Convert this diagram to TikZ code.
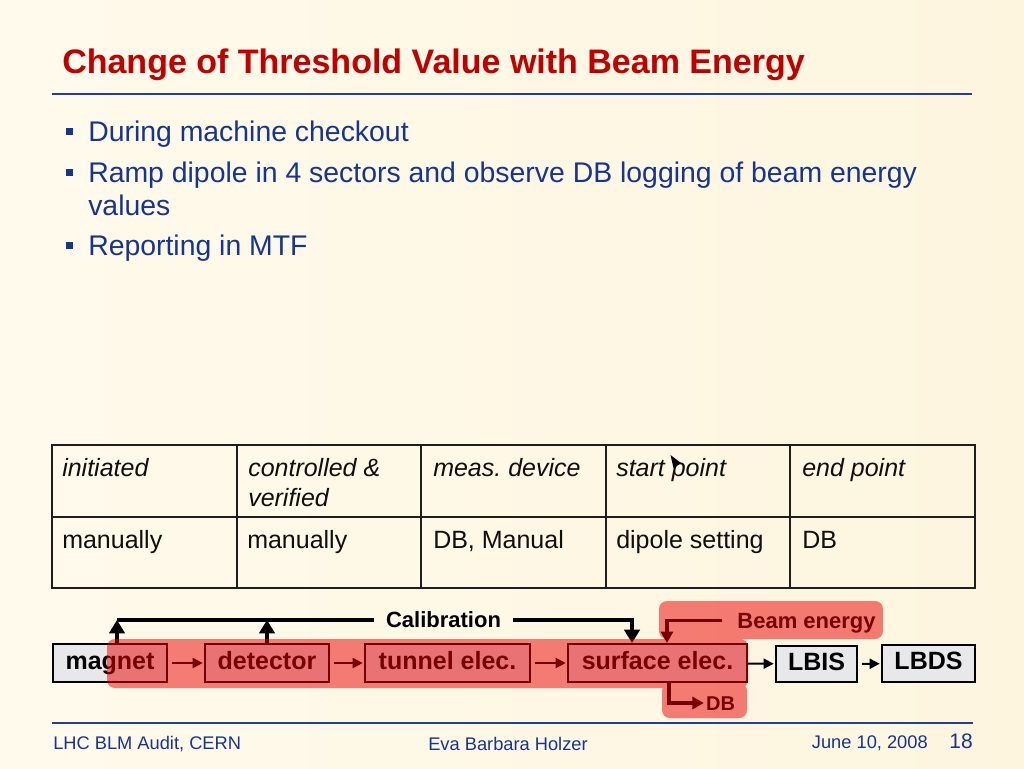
\documentclass[tikz,border=0pt]{standalone}
\usepackage{fontspec}
\setmainfont{Liberation Sans}
\usetikzlibrary{arrows.meta,calc}
\definecolor{titlered}{RGB}{192,0,0}
\definecolor{txtblue}{RGB}{22,52,145}
\definecolor{lineblue}{RGB}{30,65,150}
\definecolor{boxgray}{RGB}{232,232,234}
\definecolor{ovred}{RGB}{235,0,0}
\definecolor{bgL}{RGB}{255,250,236}
\definecolor{bgR}{RGB}{253,245,222}
\definecolor{tabline}{RGB}{30,30,30}
\definecolor{tabtxt}{RGB}{15,15,15}
\newcommand{\setfs}[1]{\fontsize{#1}{#1}\selectfont}
\frenchspacing
\begin{document}
\begin{tikzpicture}[x=0.75pt,y=-0.75pt,
  bultext/.style={anchor=base west,inner sep=0pt,text=txtblue,font=\setfs{21.3}},
  bulsq/.style={fill=txtblue},
  tabcell/.style={anchor=base west,inner sep=0pt,text=tabtxt,font=\setfs{18.75}},
  tabhead/.style={tabcell,font=\setfs{18.75}\itshape},
  box/.style={draw=black,line width=1.5pt,fill=boxgray,inner sep=0pt,
    font=\setfs{18.75}\bfseries,text height=13.5pt,text depth=3.9pt,
    minimum height=38*0.75pt},
  flow/.style={draw=black,line width=1.5pt,-{Triangle[length=7.5pt,width=7.5pt]},
    shorten <=3pt,shorten >=1pt},
  calline/.style={draw=black,line width=3pt},
  calarrow/.style={draw=black,line width=3pt,-{Triangle[length=10pt,width=11.5pt]}},
  beamarrow/.style={draw=black,line width=2.3pt,-{Triangle[length=8.5pt,width=9pt]}},
  lbl/.style={inner ysep=0pt,text depth=0pt,font=\setfs{16.5}\bfseries},
  foot/.style={inner sep=0pt,text=txtblue,font=\setfs{13.7}}
]
\useasboundingbox (0,0) rectangle (1024,768);
\shade[left color=bgL,right color=bgR] (0,0) rectangle (1024,768);

% title
\node[anchor=base west,inner sep=0pt,text=titlered,font=\setfs{25.5}\bfseries] (title) at (62,73) {Change of Threshold Value with Beam Energy};
\draw[lineblue,line width=1.5pt] (52,94) -- (972,94);

% bullets
\fill[bulsq] (65.5,128) rectangle (72.5,135);
\node[bultext] (b1) at (88,141) {During machine checkout};
\fill[bulsq] (65.5,169) rectangle (72.5,176);
\node[bultext] (b2) at (88,182) {Ramp dipole in 4 sectors and observe DB logging of beam energy};
\node[bultext] (b2b) at (88,215) {values};
\fill[bulsq] (65.5,242) rectangle (72.5,249);
\node[bultext] (b3) at (88,255) {Reporting in MTF};

% table
\draw[tabline,line width=1.1pt] (52,445) rectangle (975,588);
\draw[tabline,line width=1.1pt] (52,517) -- (975,517);
\foreach \cx in {237,421,606,790} \draw[tabline,line width=1.1pt] (\cx,445) -- (\cx,588);
\node[tabhead] (h1) at (62,476) {initiated};
\node[tabhead] (h2) at (248,476) {controlled \&};
\node[tabhead] (h2b) at (248,506) {verified};
\node[tabhead] (h3) at (433,476) {meas. device};
\node[tabhead] (h4) at (616,476) {start point};
\node[tabhead] (h5) at (802,476) {end point};
\node[tabcell] (c1) at (62,548) {manually};
\node[tabcell] (c2) at (247,548) {manually};
\node[tabcell] (c3) at (433,548) {DB, Manual};
\node[tabcell] (c4) at (616,548) {dipole setting};
\node[tabcell] (c5) at (802,548) {DB};
\fill[black] (670.5,455) -- (681,463) -- (673.5,468) -- cycle;

% diagram boxes
\node[box,minimum width=114*0.75pt] (magnet) at (110,663) {magnet};
\node[box,minimum width=124*0.75pt] (detector) at (267,663) {detector};
\node[box,minimum width=165*0.75pt] (tunnel) at (447.5,663) {tunnel elec.};
\node[box,minimum width=179*0.75pt] (surface) at (657.5,663) {surface elec.};
\node[box,minimum width=81*0.75pt,minimum height=36*0.75pt] (lbis) at (816.5,664) {LBIS};
\node[box,minimum width=93*0.75pt,minimum height=37*0.75pt] (lbds) at (928.5,663.5) {LBDS};

\draw[flow] (magnet) -- (detector);
\draw[flow] (detector) -- (tunnel);
\draw[flow] (tunnel) -- (surface);
\draw[flow,shorten <=0pt] (surface) -- (lbis);
\draw[flow] (lbis) -- (lbds);

% calibration
\node[lbl,inner xsep=9pt,text height=11.8pt] (cal) at (443.5,620) {Calibration};
\coordinate (m1) at ([xshift=5.25pt]magnet.north);
\coordinate (d1) at (detector.north);
\coordinate (s1) at ([xshift=-19.1pt]surface.north);
\draw[calline] (cal.west) -- (m1 |- cal.west);
\draw[calarrow] (m1) -- (m1 |- cal.west);
\draw[calarrow] (d1) -- (d1 |- cal.west);
\draw[calarrow] (cal.east) -| (s1);

% beam energy
\node[lbl,inner xsep=11pt,text height=11.8pt] (beam) at (806.5,620.5) {Beam energy};
\coordinate (s2) at ([xshift=7.1pt]surface.north);
\draw[beamarrow] (beam.west) -| (s2);

% DB
\node[lbl,inner xsep=1.5pt,text height=10.7pt,font=\setfs{15}\bfseries] (db) at (720.5,703) {DB};
\coordinate (s3) at ([xshift=8.6pt]surface.south);
\draw[beamarrow] (s3) |- (db.west);

% red highlight overlay
\fill[ovred,fill opacity=0.5,rounded corners=6pt]
  (107,639) rectangle (748,688)
  (659,601) rectangle (883,639)
  (662,683) rectangle (747,718);

% footer
\draw[lineblue,line width=1.5pt] (52,722.5) -- (973,722.5);
\node[foot,anchor=base west] (f1) at (53,749) {LHC BLM Audit, CERN};
\node[foot,anchor=base] (f2) at (508,750.5) {Eva Barbara Holzer};
\node[foot,anchor=base east] (f3) at (928,748) {June 10, 2008};
\node[foot,anchor=base east,font=\setfs{15.75}] (f4) at (973,748) {18};
\end{tikzpicture}
\end{document}
